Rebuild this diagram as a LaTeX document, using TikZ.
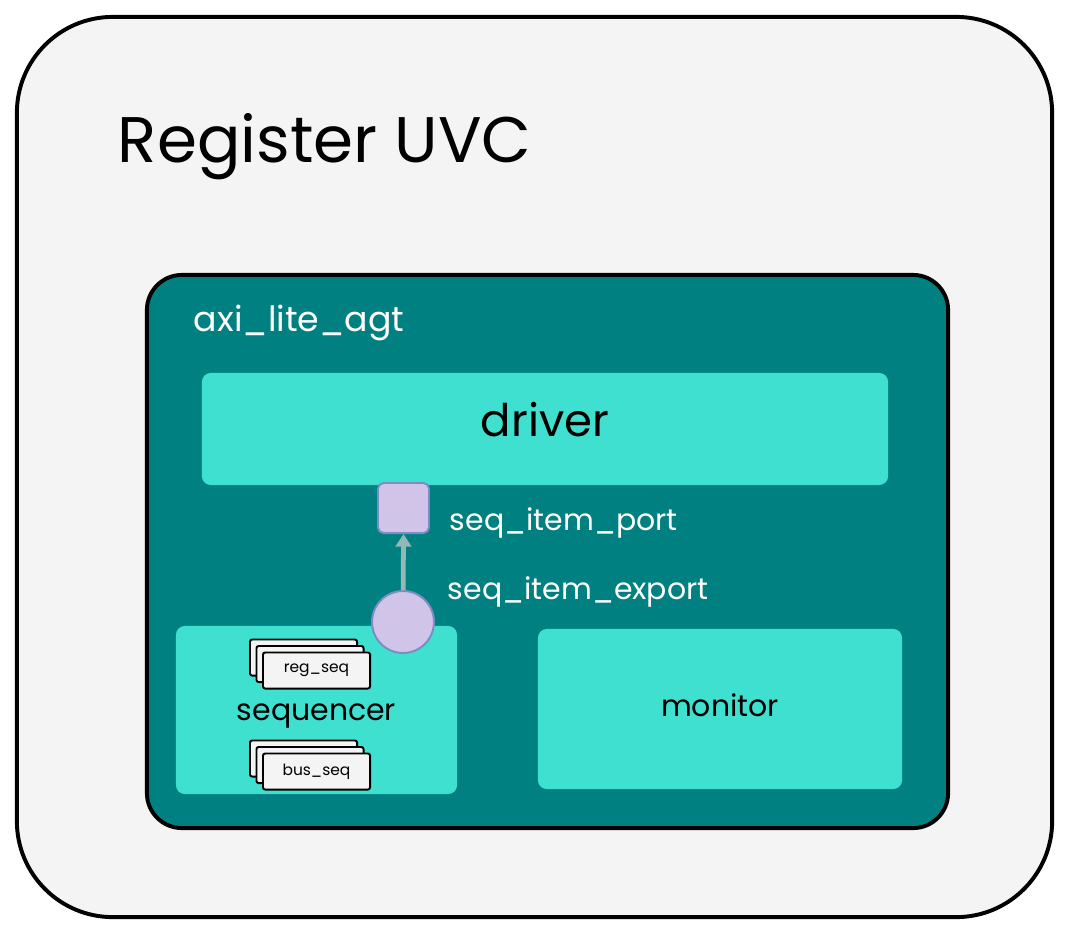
\documentclass[tikz,border=0pt]{standalone}
\usepackage{fontspec}
\setmainfont{Poppins}
\usepackage{xcolor}
\usetikzlibrary{positioning,arrows.meta}

\definecolor{uvcgrey}{HTML}{F4F4F4}
\definecolor{agtteal}{HTML}{008080}
\definecolor{blockcyan}{HTML}{40E0D0}
\definecolor{tlmfill}{HTML}{D1C4E9}
\definecolor{tlmedge}{HTML}{7B8DC2}
\definecolor{tlmarrow}{HTML}{94B8B6}

\tikzset{
    panel/.style={rectangle, draw=black, line width=2.8pt},
    block/.style={rectangle, fill=blockcyan, rounded corners=0.22cm, text=black,
                  font=\fontsize{21.3}{25}\selectfont},
    seqbox/.style={rectangle, draw=black, line width=1.4pt, fill=uvcgrey,
                   rounded corners=1.5pt, minimum width=2.675cm, minimum height=0.9cm,
                   font=\fontsize{11}{13}\selectfont},
    lbl/.style={text=white, font=\fontsize{21.3}{25}\selectfont}
}

\begin{document}
\begin{tikzpicture}[x=0.025cm, y=-0.025cm]
    \useasboundingbox (0,0) rectangle (1070,935);

    % Register UVC container
    \node[panel, fill=uvcgrey, rounded corners=2.4cm, minimum width=25.875cm,
          minimum height=22.5cm] (uvc) at (534.5,467) {};
    \node[anchor=base west, font=\fontsize{45.8}{54}\selectfont] (uvctitle) at (113,162) {Register UVC};

    % AXI-Lite agent
    \node[panel, fill=agtteal, rounded corners=0.875cm, minimum width=20.025cm,
          minimum height=13.825cm] (agt) at (547.5,551.5) {};
    \node[lbl, anchor=base west, font=\fontsize{24.7}{30}\selectfont] (agtname) at (189,331) {axi\_lite\_agt};

    % Components inside the agent
    \node[block, minimum width=17.15cm, minimum height=2.8cm, text depth=0.5cm,
          font=\fontsize{32}{38}\selectfont] (drv) at (545,429) {driver};
    \node[block, minimum width=7.025cm, minimum height=4.2cm,
          text height=0.7cm] (sqr) at (316.5,710) {sequencer};
    \node[block, minimum width=9.1cm, minimum height=4cm,
          text depth=0.2cm] (mon) at (720,709) {monitor};

    % Sequences on the sequencer
    \node[seqbox] (regseqc) at (303.5,657.5) {};
    \node[seqbox] (regseqb) at (310,664) {};
    \node[seqbox] (regseq) at (316.5,670.5) {reg\_seq};
    \node[seqbox] (busseqc) at (303.5,758.5) {};
    \node[seqbox] (busseqb) at (310,765) {};
    \node[seqbox] (busseq) at (316.5,771.5) {bus\_seq};

    % TLM port and export
    \node[rectangle, draw=tlmedge, line width=1.4pt, fill=tlmfill, rounded corners=4pt,
          minimum width=1.275cm, minimum height=1.25cm] (port) at (403.5,508) {};
    \node[circle, draw=tlmedge, line width=1.4pt, fill=tlmfill,
          minimum size=1.55cm, inner sep=0pt] (export) at (403,622) {};
    \node[lbl, anchor=base west] (portname) at (445,530) {seq\_item\_port};
    \node[lbl, anchor=base west] (exportname) at (443,599) {seq\_item\_export};

    \draw[-{Triangle[length=9pt, width=11pt]}, tlmarrow, line width=3.4pt]
        (export) -- (port.south);
\end{tikzpicture}
\end{document}
